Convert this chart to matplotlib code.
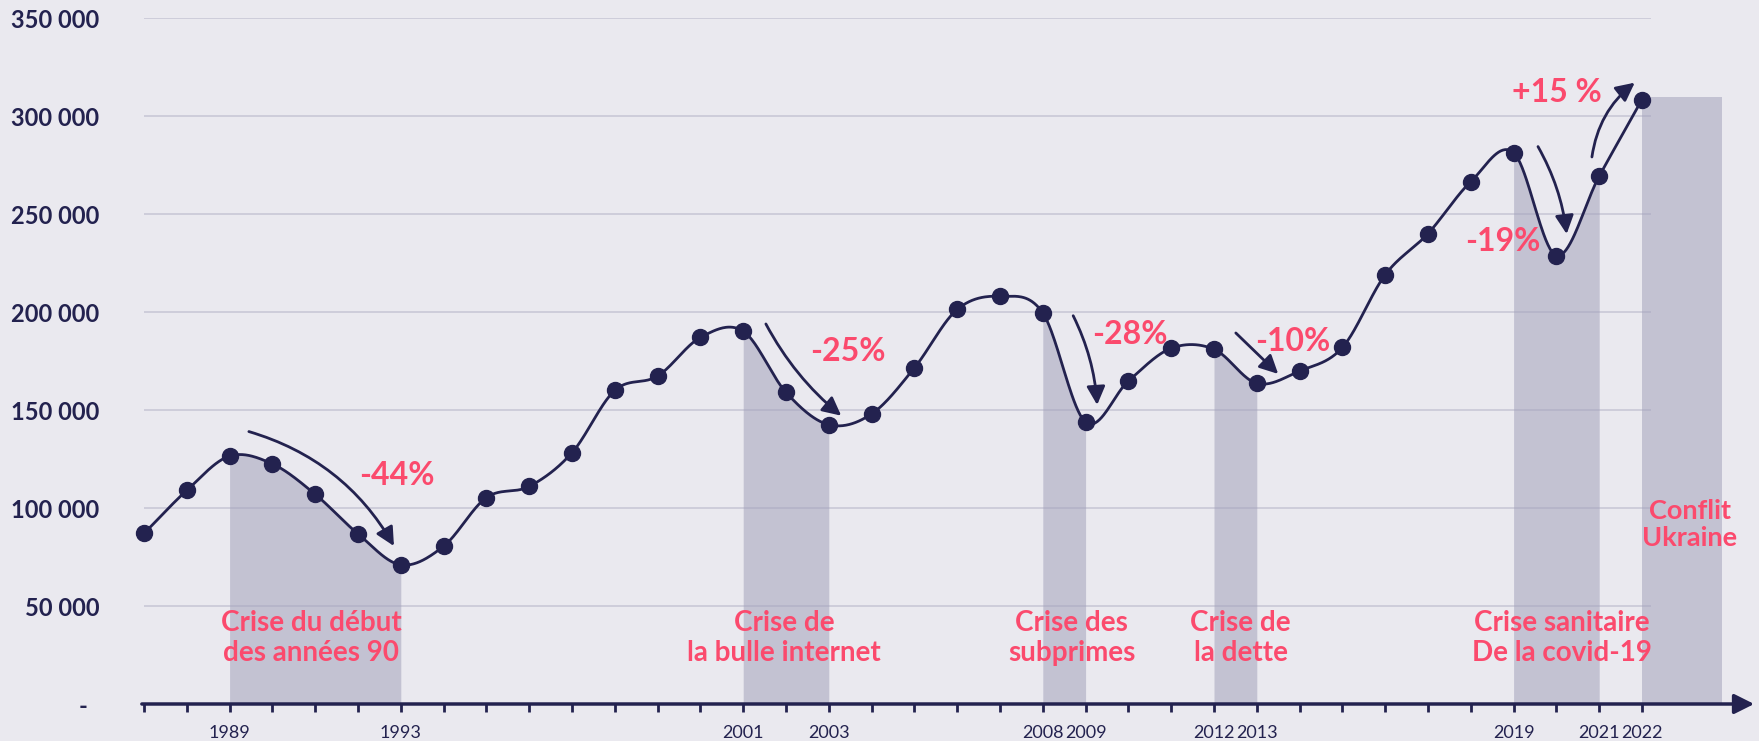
import numpy as np
import matplotlib.pyplot as plt

# Données : volume annuel (lecture du graphique)
annees = np.arange(1987, 2023)
volumes = [87000, 109000, 126500, 122500, 107000, 86800, 71000, 80500, 105300, 111000,
           128200, 160000, 167300, 187000, 190200, 159000, 142500, 148000, 171500, 201300,
           208000, 199500, 143800, 164800, 181500, 181000, 163600, 169900, 181900, 219000,
           240000, 266500, 281300, 228800, 269300, 308400]

annees_etiquetees = [1989, 1993, 2001, 2003, 2008, 2009, 2012, 2013, 2019, 2021, 2022]
graduations_y = [0, 50000, 100000, 150000, 200000, 250000, 300000, 350000]
etiquettes_y = ['-  ', '50 000', '100 000', '150 000', '200 000', '250 000', '300 000', '350 000']

crises = [(1989, 1993), (2001, 2003), (2008, 2009), (2012, 2013), (2019, 2021)]
textes_crises = ['Crise du début\ndes années 90', 'Crise de\nla bulle internet',
                 'Crise des\nsubprimes', 'Crise de\nla dette', 'Crise sanitaire\nDe la covid-19']
variations = ['-44%', '-25%', '-28%', '-10%', '-19%', '+15 %']

FOND = '#eae9ef'
BLEU = '#23224f'
ROSE = '#fb4a6d'
BANDE = '#a3a2bb'
GRILLE = '#c9c8d6'
plt.rcParams['font.family'] = ['Lato', 'DejaVu Sans']


def catmull_rom(x, y, n=40):
    # spline lisse passant par tous les points
    x = np.asarray(x, float)
    y = np.asarray(y, float)
    yp = np.concatenate([[2 * y[0] - y[1]], y, [2 * y[-1] - y[-2]]])
    xs, ys = [], []
    for i in range(len(x) - 1):
        p0, p1, p2, p3 = yp[i], yp[i + 1], yp[i + 2], yp[i + 3]
        t = np.linspace(0, 1, n, endpoint=False)
        m1 = (p2 - p0) / 2
        m2 = (p3 - p1) / 2
        h00 = 2 * t**3 - 3 * t**2 + 1
        h10 = t**3 - 2 * t**2 + t
        h01 = -2 * t**3 + 3 * t**2
        h11 = t**3 - t**2
        xs.append(x[i] + t * (x[i + 1] - x[i]))
        ys.append(h00 * p1 + h10 * m1 + h01 * p2 + h11 * m2)
    xs.append([x[-1]])
    ys.append([y[-1]])
    return np.concatenate(xs), np.concatenate(ys)


xs, ys = catmull_rom(annees, volumes)

fig = plt.figure(figsize=(17.59, 7.41), dpi=100, facecolor=FOND)
ax = fig.add_axes([144 / 1759, 37 / 741, (1759 - 144) / 1759, (704 - 18) / 741])
ax.set_facecolor(FOND)
ax.set_xlim(1987, 1987 + (1759 - 144) / 42.8)
ax.set_ylim(0, 350000)
for s in ax.spines.values():
    s.set_visible(False)

# lignes de grille
ax.hlines(graduations_y[1:], 1987, 2022.2, color=GRILLE, lw=1.2, zorder=1)

# bandes des crises (remplies sous la courbe)
for a, b in crises:
    m = (xs >= a) & (xs <= b)
    ax.fill_between(xs[m], 0, ys[m], color=BANDE, alpha=0.55, lw=0, zorder=2)
ax.fill_between([2022, 2023.88], 0, volumes[-1] + 1500, color=BANDE, alpha=0.55, lw=0, zorder=2)

# courbe + points
ax.plot(xs, ys, color=BLEU, lw=2, zorder=3, clip_on=False)
ax.plot(annees, volumes, 'o', color=BLEU, ms=11.5, zorder=4, clip_on=False)

# axe x avec flèche
ax.annotate('', xy=(2024.62, 0), xytext=(1986.95, 0), annotation_clip=False,
            arrowprops=dict(arrowstyle='-|>', color=BLEU, lw=2.5, mutation_scale=30,
                            shrinkA=0, shrinkB=0), zorder=5)

ax.set_xticks(annees)
ax.set_xticklabels([str(a) if a in annees_etiquetees else '' for a in annees])
ax.tick_params(axis='x', length=6, width=2, color=BLEU, pad=9, labelsize=13,
               labelcolor=BLEU)

ax.set_yticks(graduations_y)
ax.set_yticklabels(etiquettes_y)
ax.tick_params(axis='y', length=0, pad=32, labelsize=17, labelcolor=BLEU)
for lab in ax.get_yticklabels():
    lab.set_fontweight('bold')

# étiquettes des crises
pos_crises = [1990.91, 2001.95, 2008.68, 2012.62, 2020.12]
for x, txt in zip(pos_crises, textes_crises):
    ax.text(x, 33700, txt, color=ROSE, fontsize=20, fontweight='bold', ha='center',
            va='center', linespacing=1.15, zorder=6)
ax.text(2023.12, 91500, 'Conflit\nUkraine', color=ROSE, fontsize=19.5, fontweight='bold',
        ha='center', va='center', linespacing=1.15, zorder=6)

# variations et flèches
pos_var = [(1992.9, 116800), (2003.44, 179700), (2010.04, 188300),
           (2013.85, 184800), (2018.75, 236200), (2020.01, 312200)]
for (x, y), txt in zip(pos_var, variations):
    ax.text(x, y, txt, color=ROSE, fontsize=23, fontweight='bold', ha='center',
            va='center', zorder=6)

fleches = [((1989.45, 139000), (1992.84, 80600), -0.2),
           ((2001.53, 193900), (2003.29, 147100), 0.1),
           ((2008.71, 198100), (2009.27, 152600), -0.1),
           ((2012.51, 189300), (2013.50, 168400), 0.0),
           ((2019.57, 284400), (2020.24, 239800), -0.1),
           ((2020.83, 279100), (2021.83, 317000), -0.2)]
for debut, fin, rad in fleches:
    ax.annotate('', xy=fin, xytext=debut, annotation_clip=False,
                arrowprops=dict(arrowstyle='-|>', color=BLEU, lw=2, mutation_scale=28,
                                shrinkA=0, shrinkB=0,
                                connectionstyle=f'arc3,rad={rad}'), zorder=6)

fig.savefig('out.png', dpi=100, facecolor=FOND)
